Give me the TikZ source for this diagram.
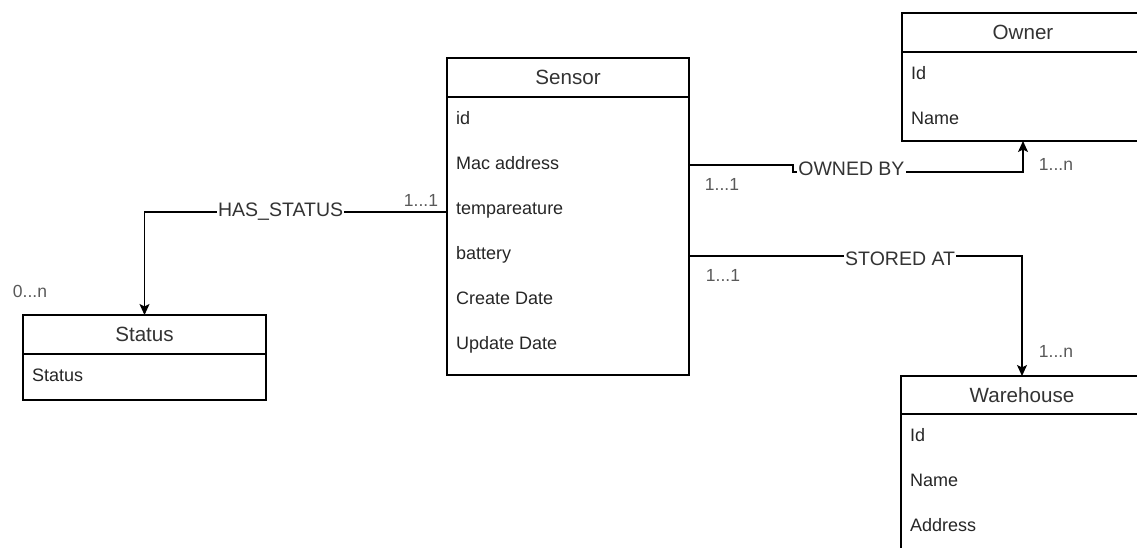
\documentclass[tikz,border=0pt]{standalone}
\usepackage{fontspec}
\setmainfont{Liberation Sans}
\usepackage{tikz}
\usetikzlibrary{positioning,arrows.meta}
\tikzstyle{entityHead} = [draw, rectangle, line width=1.2pt, outer sep=0pt, minimum width=242pt, minimum height=39pt,
	text=black!80, font=\fontsize{20.6}{24}\selectfont]
\tikzstyle{entityBody} = [draw, rectangle, line width=1.2pt, outer sep=0pt, minimum width=242pt]
\tikzstyle{attrText} = [inner sep=0pt, anchor=base west, text=black!85, font=\fontsize{18}{21}\selectfont]
\tikzstyle{relArrow} = [line width=1.2pt, -{Stealth[length=11pt,width=10pt,inset=2.5pt]}]
\tikzstyle{relLabel} = [fill=white, inner sep=1pt, text=black!80, font=\fontsize{19.5}{23}\selectfont]
\tikzstyle{multText} = [inner sep=0pt, text=black!65, font=\fontsize{17.5}{21}\selectfont]

\begin{document}
\begin{tikzpicture}[x=1pt, y=-1pt]
		\useasboundingbox (0,0) rectangle (1137,547);
		\clip (0,0) rectangle (1137,547);
		
		% entities
		\node[entityHead, anchor=north west] (sensor-head) at (447,58) {Sensor};				% Sensor
		\node[entityBody, below=0pt of sensor-head, minimum height=278pt] (sensor-body) {};
		\node[entityHead, anchor=north west, minimum width=243pt] (status-head) at (23,315) {Status};	% Status
		\node[entityBody, below=0pt of status-head, minimum width=243pt, minimum height=46pt] (status-body) {};
		\node[entityHead, anchor=north west] (owner-head) at (902,13) {Owner};					% Owner, rechts abgeschnitten
		\node[entityBody, below=0pt of owner-head, minimum height=89pt] (owner-body) {};
		\node[entityHead, anchor=north west, minimum height=38pt] (warehouse-head) at (901,376) {Warehouse};	% Warehouse, unten abgeschnitten
		\node[entityBody, below=0pt of warehouse-head, minimum height=150pt] (warehouse-body) {};
		
		% attributes
		\foreach \attr [count=\i] in {id,Mac address,tempareature,battery,Create Date,Update Date}
			\node[attrText] (sensor-\i) at ([xshift=9pt,yshift={-27pt-45pt*(\i-1)}]sensor-body.north west) {\attr};
		\node[attrText] (status-1) at ([xshift=9pt,yshift=-27pt]status-body.north west) {Status};
		\foreach \attr [count=\i] in {Id,Name}
			\node[attrText] (owner-\i) at ([xshift=9pt,yshift={-27pt-45pt*(\i-1)}]owner-body.north west) {\attr};
		\foreach \attr [count=\i] in {Id,Name,Address}
			\node[attrText] (warehouse-\i) at ([xshift=9pt,yshift={-27pt-45pt*(\i-1)}]warehouse-body.north west) {\attr};
		
		% start points of the relations
		\coordinate (hs-start) at (sensor-body.west |- sensor-3.base);
		\coordinate (ob-start) at (sensor-body.east |- sensor-2.base);
		\coordinate (sa-start) at (sensor-body.east |- sensor-4.base);
		
		% relations
		\draw[relArrow] ([yshift=2pt]hs-start) -| node[relLabel, pos=0.275] (has-status) {HAS\_STATUS} (status-head.north);
		\draw[relArrow] ([yshift=4pt]ob-start) -- ++(104,0) -- ++(0,7) -| node[relLabel, pos=0.127, yshift=3pt] (owned-by) {OWNED BY} (owner-body.south);
		\draw[relArrow] ([yshift=3pt]sa-start) -| node[relLabel, pos=0.317, yshift=-3pt] (stored-at) {STORED AT} (warehouse-head.north);
		
		% multiplicities
		\node[multText] (hs-one) at (421,200) {1...1};
		\node[multText] (hs-many) at (30,291) {0...n};
		\node[multText] (ob-one) at (722,184) {1...1};
		\node[multText] (ob-many) at (1056,164) {1...n};
		\node[multText] (sa-one) at (723,275) {1...1};
		\node[multText] (sa-many) at (1056,351) {1...n};
		\end{tikzpicture}
\end{document}
